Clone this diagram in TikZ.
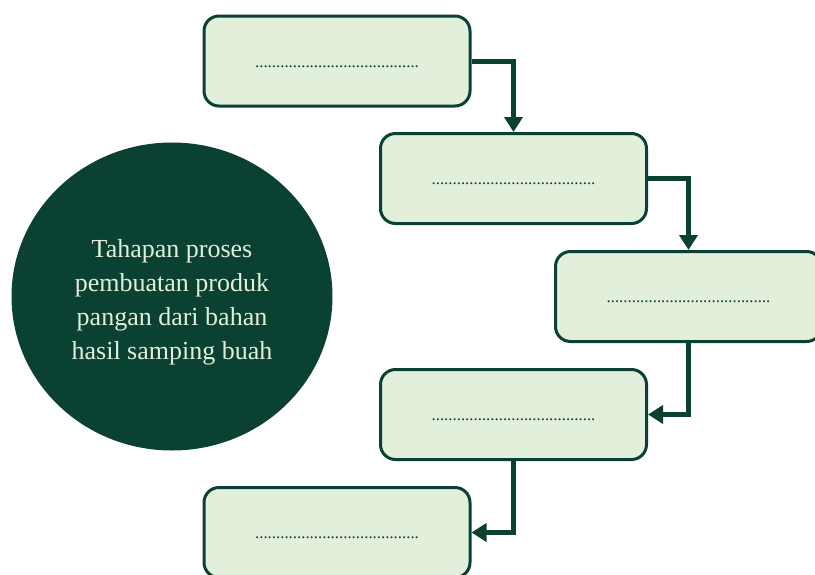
\documentclass[tikz,border=0pt]{standalone}
\usepackage{fontspec}
\setmainfont{Liberation Serif}
\usetikzlibrary{arrows.meta}
\definecolor{darkleaf}{HTML}{0A4133}
\definecolor{paleleaf}{HTML}{E2EFDA}
\tikzstyle{stepbox}=[rectangle,rounded corners=15pt,draw=darkleaf,line width=3pt,fill=paleleaf,minimum width=266pt,minimum height=90pt,inner sep=0pt,text height=12pt,text depth=0pt,text=darkleaf,font=\fontsize{16.8}{18}\selectfont]
\tikzstyle{flow}=[draw=darkleaf,line width=5pt,-{Triangle[length=15pt,width=18pt]}]
\newcommand{\stepbox}{\node[stepbox]}
\newcommand{\blank}{.......................................}

\begin{document}
\begin{tikzpicture}[x=1pt,y=-1pt]
		\useasboundingbox (0,0) rectangle (815,574);
		\clip (0,0) rectangle (815,574);
		% % % % % % % % % % % % % % % % % % % % % % % % % % % % %
		%*********************
		\fill [darkleaf] (172,296.5) ellipse [x radius=160.5pt,y radius=154pt];
		\node [align=center,text=paleleaf,font=\fontsize{26}{34}\selectfont] (topic) at (172,302)
		      {Tahapan proses\\pembuatan produk\\pangan dari bahan\\hasil samping buah};
		%*********************
		\stepbox (s1) at (337,61) [] {\blank};
		\stepbox (s2) at (513.5,178.5) [] {\blank};
		\stepbox (s3) at (688.5,296.5) [] {\blank};
		\stepbox (s4) at (513.5,414.5) [] {\blank};
		\stepbox (s5) at (337,532.5) [] {\blank};
		%*********************
		\draw [flow] (s1.east) -| (s2.north);
		\draw [flow] (s2.east) -| (s3.north);
		\draw [flow] (s3.south) |- (s4.east);
		\draw [flow] (s4.south) |- (s5.east);
		%*********************
\end{tikzpicture}
\end{document}
